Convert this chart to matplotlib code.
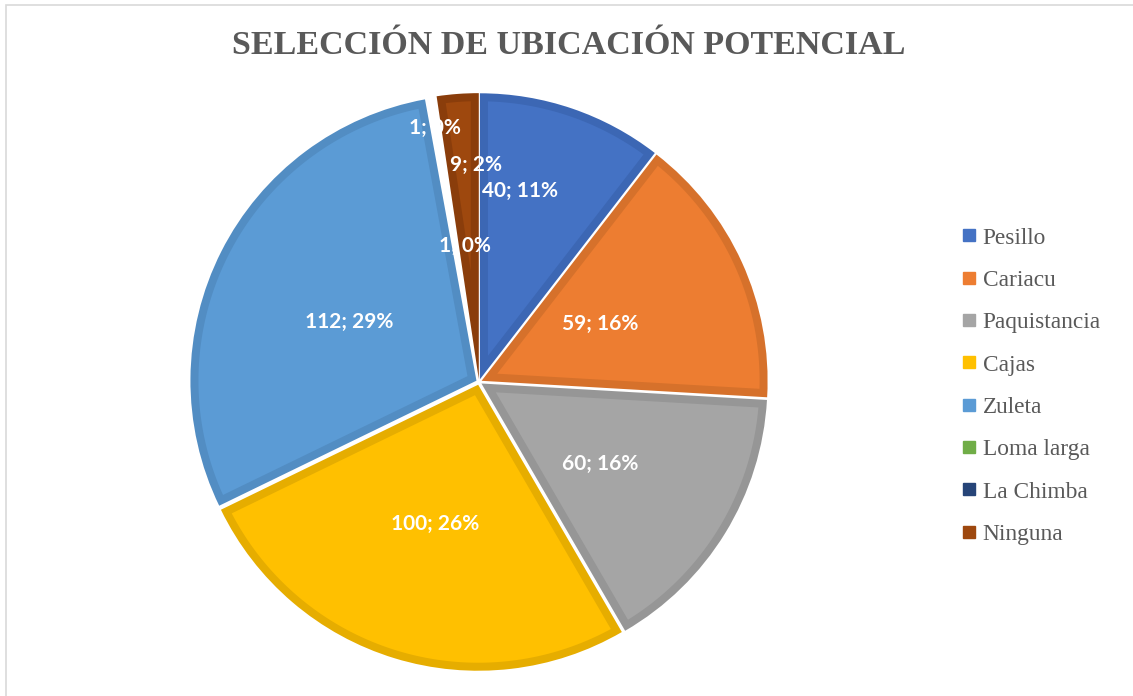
import numpy as np
import matplotlib
matplotlib.use("Agg")
import matplotlib.pyplot as plt
from matplotlib.lines import Line2D
from matplotlib.patches import Rectangle, Polygon

categorias = ["Pesillo", "Cariacu", "Paquistancia", "Cajas", "Zuleta",
              "Loma larga", "La Chimba", "Ninguna"]
valores = [40, 59, 60, 100, 112, 1, 1, 9]
porcentajes = ["11%", "16%", "16%", "26%", "29%", "0%", "0%", "2%"]

colores = ["#4472C4", "#ED7D31", "#A5A5A5", "#FFC000", "#5B9BD5",
           "#70AD47", "#264478", "#9E480E"]
bordes = ["#3C67B4", "#D6712B", "#969696", "#E6AD00", "#528DC3",
          "#FFFFFF", "#FFFFFF", "#8A3D0B"]

# posicion de etiquetas: (radio relativo, desplazamiento angular en grados)
pos_etiq = [(0.675, 6.8), (0.46, 1.0), (0.50, -2.5), (0.51, 0.0),
            (0.49, 2.0), (0.89, 0.0), (0.47, -3.0), (0.75, -3.4)]

W, H = 1133, 696
fig = plt.figure(figsize=(W / 100, H / 100), dpi=100)

cx, cy, R = 479, 382, 286
half = 300
ax = fig.add_axes([(cx - half) / W, (H - cy - half) / H, 2 * half / W, 2 * half / H])

wedges, _ = ax.pie(valores, colors=bordes, startangle=90, counterclock=False,
                   radius=1.0, explode=[0.01] * len(valores),
                   wedgeprops=dict(linewidth=0))


def interior(w, d):
    """Poligono del relleno claro: la cuña recortada un borde d hacia dentro."""
    c = np.array(w.center)
    r = w.r
    t1, t2 = np.deg2rad(w.theta1), np.deg2rad(w.theta2)
    h = (t2 - t1) / 2
    if np.sin(h) * (r - d) < 1.5 * d:
        return None
    bis = (t1 + t2) / 2
    apex = c + d / np.sin(h) * np.array([np.cos(bis), np.sin(bis)])
    rr = r - d
    angs = []
    for t in (t1, t2):
        u = np.array([np.cos(t), np.sin(t)])
        q = apex - c
        b = 2 * q @ u
        cc = q @ q - rr ** 2
        s = (-b + np.sqrt(b * b - 4 * cc)) / 2
        p = apex + s * u - c
        angs.append(np.arctan2(p[1], p[0]))
    a1, a2 = angs
    if a2 < a1:
        a2 += 2 * np.pi
    arc = np.linspace(a1, a2, 120)
    pts = [apex] + [c + rr * np.array([np.cos(a), np.sin(a)]) for a in arc]
    return np.array(pts)


d = 8 / R
for w, col in zip(wedges, colores):
    pts = interior(w, d)
    if pts is not None:
        ax.add_patch(Polygon(pts, closed=True, facecolor=col, edgecolor="none"))

lim = half / R
ax.set_xlim(-lim, lim)
ax.set_ylim(-lim, lim)
ax.axis("off")

for w, v, p, (rf, da) in zip(wedges, valores, porcentajes, pos_etiq):
    ang = np.deg2rad((w.theta1 + w.theta2) / 2 + da)
    x0, y0 = w.center
    ax.text(x0 + rf * np.cos(ang), y0 + rf * np.sin(ang), f"{v}; {p}",
            ha="center", va="center", color="white", fontsize=15,
            fontweight="bold", family=["Lato", "DejaVu Sans"], zorder=5)

fig.text(569 / W, 1 - 45 / H, "SELECCIÓN DE UBICACIÓN POTENCIAL",
         ha="center", va="center", fontsize=24.5, fontweight="bold",
         family=["Liberation Serif", "DejaVu Serif"], color="#595959")

handles = [Line2D([], [], marker="s", linestyle="none", markersize=8.5,
                  markerfacecolor=c, markeredgecolor=c) for c in colores]
fig.legend(handles, categorias, loc="upper left",
           bbox_to_anchor=(950 / W, 1 - 218 / H), frameon=False,
           prop=dict(family=["Liberation Serif", "DejaVu Serif"], size=16.8),
           labelcolor="#595959", handlelength=0.8, handletextpad=0.2,
           labelspacing=0.9, borderaxespad=0)

fig.patches.append(Rectangle((6 / W, -0.01), 1.0, 1 - 5 / H + 0.01,
                             transform=fig.transFigure, fill=False,
                             edgecolor="#D9D9D9", linewidth=1.2))

fig.savefig("out.png", dpi=100)
